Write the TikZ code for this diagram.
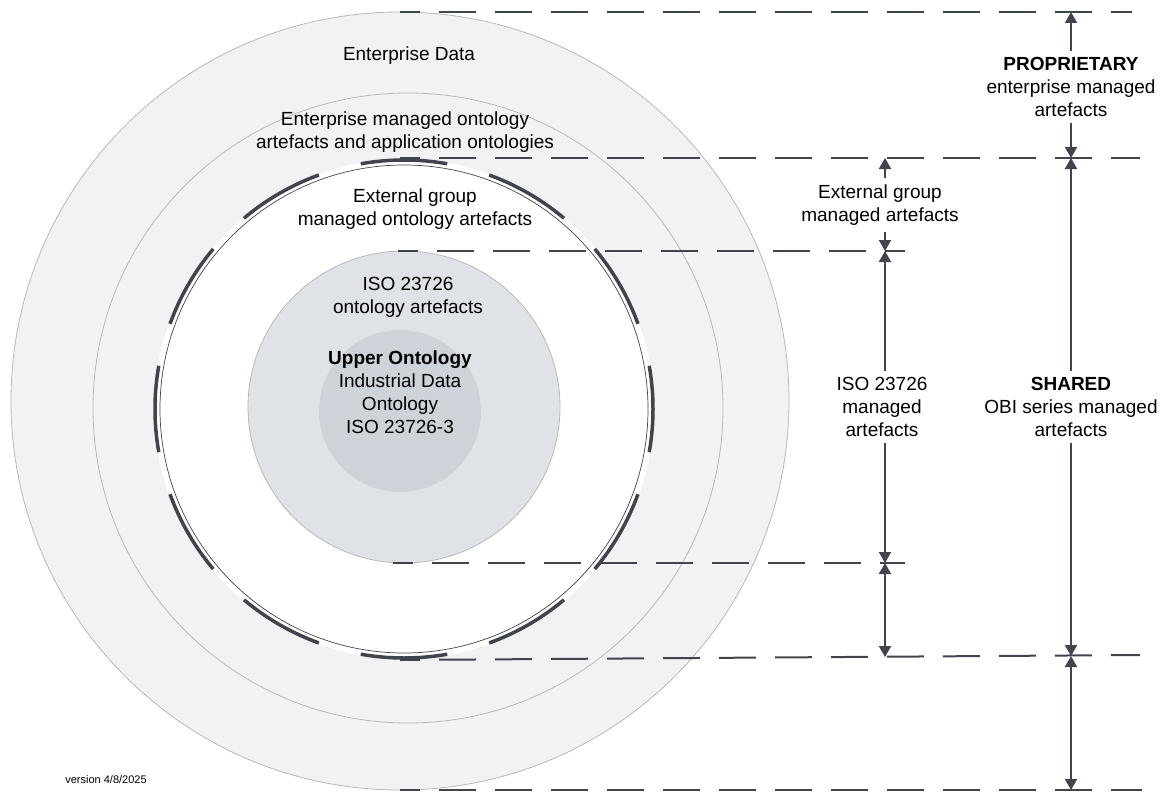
\documentclass[tikz,border=0pt]{standalone}
\usepackage{fontspec}
\setmainfont{Liberation Sans}
\usetikzlibrary{arrows.meta}
\definecolor{ringgray}{HTML}{F1F2F4}
\definecolor{isogray}{HTML}{DFE2E6}
\definecolor{uppergray}{HTML}{CED3DA}
\definecolor{edgegray}{HTML}{B5B9BF}
\definecolor{ink}{HTML}{40454D}
\begin{document}
\begin{tikzpicture}[x=1pt, y=-1pt, line width=0.8pt,
  >={Triangle[width=12pt,length=11pt]},
  lvl/.style={ink, line width=2pt, dash pattern=on 37pt off 19pt, dash phase=17pt},
  dim/.style={ink, line width=2pt, ->},
  lbl/.style={align=center, font=\fontsize{19}{23}\selectfont, inner sep=0pt},
  side/.style={lbl, inner sep=6pt}]
  \useasboundingbox (0,0) rectangle (1162,792);
  % rings
  \draw[edgegray, fill=ringgray] (400,401) circle[radius=389];
  \draw[edgegray] (408,408) circle[radius=315];
  \fill[white] (404,409) circle[radius=250];
  \draw[ink, line width=0.7pt] (404,409) circle[radius=244];
  \foreach \a in {0,30,...,330}
    \draw[ink, line width=3.5pt] ([shift={(\a-10:249)}]404,409) arc[start angle=\a-10, end angle=\a+10, radius=249];
  \draw[edgegray, fill=isogray] (404,407) circle[radius=156];
  \fill[uppergray] (400,411) circle[radius=81];
  % ring labels
  \node[lbl] (entdata) at (409,56) {Enterprise Data};
  \node[lbl] (entonto) at (405,132) {Enterprise managed ontology\\artefacts and application ontologies};
  \node[lbl] (extonto) at (415,209) {External group\\managed ontology artefacts};
  \node[lbl] (isoonto) at (408,297) {ISO 23726\\ontology artefacts};
  \node[lbl] (upper) at (400,392) {\textbf{Upper Ontology}\\Industrial Data\\Ontology\\ISO 23726-3};
  \node[font=\fontsize{11}{13}\selectfont, inner sep=0pt] (version) at (106,780) {version 4/8/2025};
  % level lines
  \draw[lvl] (400,12) -- (1132,12);
  \draw[lvl] (400,158) -- (1140,158);
  \draw[lvl] (398,251) -- (905,251);
  \draw[lvl] (393,563) -- (905,563);
  \draw[lvl] (400,660) -- (1140,655);
  \draw[lvl] (400,790) -- (1142,790);
  \coordinate (p0) at (1071,12);
  \coordinate (p1) at (1071,158);
  \coordinate (p2) at (1071,656);
  \coordinate (p3) at (1071,790);
  \coordinate (m1) at (885,158);
  \coordinate (m2) at (885,251);
  \coordinate (m3) at (885,563);
  \coordinate (m4) at (885,657);
  % scope arrows
  \node[side] (propr) at (1071,87) {\textbf{PROPRIETARY}\\enterprise managed\\artefacts};
  \draw[dim] (propr.north) -- (p0);
  \draw[dim] (propr.south) -- (p1);
  \node[side] (shared) at (1071,407) {\textbf{SHARED}\\OBI series managed\\artefacts};
  \draw[dim] (shared.north) -- (p1);
  \draw[dim] (shared.south) -- (p2);
  \draw[dim, <->] (p2) -- (p3);
  \node[side] (extman) at (880,205) {External group\\managed artefacts};
  \draw[dim] (extman.north -| m1) -- (m1);
  \draw[dim] (extman.south -| m1) -- (m2);
  \node[side] (isoman) at (882,407) {ISO 23726\\managed\\artefacts};
  \draw[dim] (isoman.north -| m2) -- (m2);
  \draw[dim] (isoman.south -| m2) -- (m3);
  \draw[dim, <->] (m3) -- (m4);
\end{tikzpicture}
\end{document}
